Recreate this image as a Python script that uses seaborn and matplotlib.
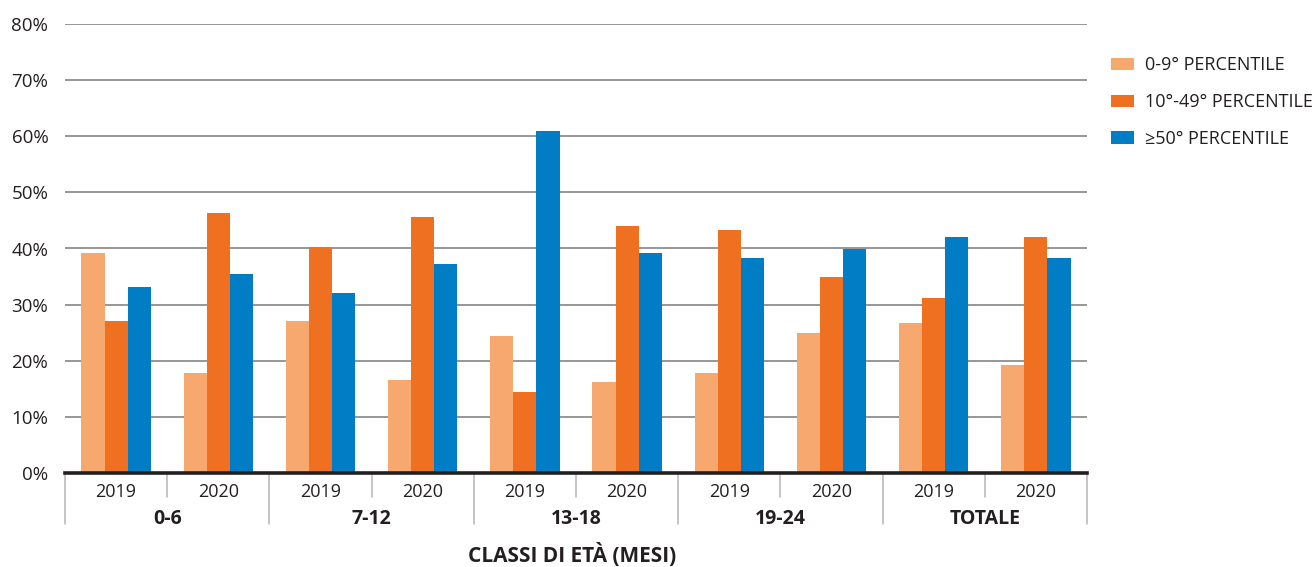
import numpy as np
import pandas as pd
import matplotlib
matplotlib.use("Agg")
import matplotlib.pyplot as plt
import seaborn as sns
from matplotlib.patches import Patch
from matplotlib.transforms import blended_transform_factory

# Age classes (months), survey years and percentile bands
age_classes = ["0-6", "7-12", "13-18", "19-24", "TOTALE"]
years = ["2019", "2020"]
series = ["0-9° PERCENTILE", "10°-49° PERCENTILE", "≥50° PERCENTILE"]

# Share of children per band (%), ordered by age class then year
p0_9 = [39.2, 17.8, 27.1, 16.6, 24.4, 16.2, 17.8, 24.9, 26.7, 19.2]
p10_49 = [27.1, 46.3, 40.3, 45.6, 14.4, 44.0, 43.3, 34.9, 31.2, 42.0]
p50_plus = [33.1, 35.5, 32.1, 37.2, 60.9, 39.2, 38.3, 39.9, 42.0, 38.3]

colors = ["#F7A86F", "#F07022", "#007DC5"]
text_color = "#231F20"

slots = [f"{a}|{y}" for a in age_classes for y in years]
df = pd.DataFrame({
    "slot": slots * 3,
    "series": np.repeat(series, len(slots)),
    "value": p0_9 + p10_49 + p50_plus,
})

sns.set_theme(style="white")
plt.rcParams["font.family"] = ["Open Sans", "DejaVu Sans"]
plt.rcParams["text.color"] = text_color
plt.rcParams["xtick.color"] = text_color
plt.rcParams["ytick.color"] = text_color

W, H = 1316, 567
fig = plt.figure(figsize=(W / 100, H / 100), dpi=100)
ax = fig.add_axes([65 / W, 94 / H, 1022 / W, 449 / H])

sns.barplot(data=df, x="slot", y="value", hue="series", order=slots,
            hue_order=series, palette=colors, width=0.68, saturation=1,
            linewidth=0, edgecolor="none", ax=ax, legend=False)

ax.set_xlim(-0.5, len(slots) - 0.5)
ax.set_ylim(0, 80)
ax.set_yticks(range(0, 81, 10))
ax.set_yticklabels([f"{v}%" for v in range(0, 81, 10)], fontsize=13.5)
ax.yaxis.grid(True, color="#8f8f8f", linewidth=1.3)
ax.set_axisbelow(True)
ax.tick_params(axis="y", length=0, pad=12)

ax.set_xticks(range(len(slots)))
ax.set_xticklabels([s.split("|")[1] for s in slots], fontsize=13)
ax.tick_params(axis="x", length=0, pad=7)
ax.set_xlabel("")
ax.set_ylabel("")

for side in ["left", "right", "top"]:
    ax.spines[side].set_visible(False)
ax.spines["bottom"].set_color("#231F20")
ax.spines["bottom"].set_linewidth(2.6)
ax.spines["bottom"].set_zorder(5)

# Category separators below the axis: short between years, long between age classes
trans = blended_transform_factory(ax.transData, ax.transAxes)
for i in range(len(slots) + 1):
    x = i - 0.5
    y_end = -0.1136 if i % 2 == 0 else -0.0535
    ax.plot([x, x], [0, y_end], transform=trans, color="#b5b5b5",
            linewidth=1.1, clip_on=False)

for g, name in enumerate(age_classes):
    ax.text(2 * g + 0.5, -0.103, name, transform=trans, ha="center",
            va="center", fontsize=14, fontweight="bold")

fig.text(572 / W, 1 - 555 / H, "CLASSI DI ETÀ (MESI)", ha="center",
         va="center", fontsize=15, fontweight="bold")

handles = [Patch(facecolor=c, edgecolor="none", label=s)
           for c, s in zip(colors, series)]
fig.legend(handles=handles, loc="upper left",
           bbox_to_anchor=(1102 / W, 1 - 47 / H), frameon=False,
           borderpad=0, handlelength=1.28, handleheight=0.67,
           handletextpad=0.6, labelspacing=1.05, fontsize=13)

fig.savefig("out.png", dpi=100)
